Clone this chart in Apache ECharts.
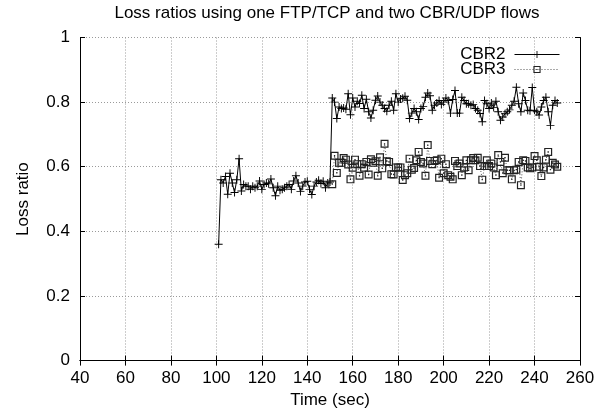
<!DOCTYPE html>
<html>
<head>
<meta charset="utf-8">
<title>Loss ratios</title>
<script src="https://cdn.jsdelivr.net/npm/echarts@6/dist/echarts.min.js"></script>
<style>
  html, body { margin: 0; padding: 0; background: #fff; }
  #chart { width: 604px; height: 415px; }
</style>
</head>
<body>
<div id="chart"></div>
<script>
// Loss ratio samples, one per second.
const cbr2Start = 101; // first CBR2 sample time (sec)
const cbr3Start = 151; // first CBR3 sample time (sec)

const cbr2Values = [
  0.36, 0.56, 0.55, 0.57, 0.515, 0.58, 0.55, 0.52, 0.56, 0.625,
  0.525, 0.545, 0.54, 0.54, 0.53, 0.54, 0.535, 0.54, 0.556, 0.53,
  0.545, 0.55, 0.547, 0.562, 0.535, 0.51, 0.54, 0.527, 0.53, 0.535,
  0.54, 0.545, 0.53, 0.556, 0.572, 0.55, 0.523, 0.54, 0.553, 0.555,
  0.53, 0.514, 0.54, 0.553, 0.558, 0.548, 0.555, 0.535, 0.55, 0.553,
  0.813, 0.8, 0.749, 0.785, 0.78, 0.782, 0.778, 0.826, 0.761, 0.813,
  0.785, 0.803, 0.796, 0.821, 0.78, 0.809, 0.77, 0.751, 0.775, 0.806,
  0.819, 0.8, 0.79, 0.78, 0.772, 0.79, 0.803, 0.775, 0.826, 0.8,
  0.81, 0.812, 0.818, 0.806, 0.749, 0.766, 0.78, 0.77, 0.746, 0.78,
  0.786, 0.815, 0.828, 0.82, 0.775, 0.79, 0.797, 0.805, 0.793, 0.8,
  0.813, 0.805, 0.766, 0.808, 0.836, 0.766, 0.766, 0.815, 0.805, 0.795,
  0.795, 0.79, 0.793, 0.78, 0.775, 0.765, 0.739, 0.805, 0.795, 0.78,
  0.797, 0.783, 0.803, 0.77, 0.744, 0.754, 0.764, 0.77, 0.776, 0.79,
  0.803, 0.846, 0.795, 0.77, 0.828, 0.805, 0.775, 0.773, 0.845, 0.775,
  0.77, 0.76, 0.785, 0.805, 0.815, 0.77, 0.728, 0.79, 0.805, 0.797
];

const cbr3Values = [
  0.546, 0.634, 0.581, 0.612, 0.612, 0.627, 0.622, 0.607, 0.561, 0.597,
  0.622, 0.608, 0.572, 0.608, 0.597, 0.615, 0.576, 0.623, 0.612, 0.617,
  0.572, 0.629, 0.595, 0.671, 0.617, 0.615, 0.577, 0.576, 0.598, 0.598,
  0.598, 0.559, 0.574, 0.58, 0.625, 0.591, 0.596, 0.62, 0.646, 0.615,
  0.61, 0.572, 0.667, 0.618, 0.608, 0.618, 0.62, 0.566, 0.625, 0.58,
  0.608, 0.574, 0.569, 0.561, 0.618, 0.602, 0.61, 0.574, 0.598, 0.62,
  0.589, 0.62, 0.627, 0.62, 0.628, 0.602, 0.56, 0.602, 0.62, 0.602,
  0.61, 0.598, 0.574, 0.636, 0.615, 0.58, 0.628, 0.589, 0.589, 0.561,
  0.589, 0.591, 0.615, 0.543, 0.62, 0.618, 0.598, 0.595, 0.598, 0.633,
  0.62, 0.6, 0.571, 0.598, 0.622, 0.646, 0.591, 0.612, 0.607, 0.6
];

const seriesNames = ['CBR2', 'CBR3'];
const xRange = { min: 40, max: 260, interval: 20 };
const yRange = { min: 0, max: 1, interval: 0.2 };

const FONT = "'Liberation Sans', Arial, Helvetica, sans-serif";
const plusSymbol = 'path://M4.4,0H5.6V4.4H10V5.6H5.6V10H4.4V5.6H0V4.4H4.4Z';
const boxSymbol = 'path://M0,0H10V10H0Z M1.5,1.5V8.5H8.5V1.5Z M4.2,4.2H5.8V5.8H4.2Z';

const toPoints = (start, values) => values.map((v, i) => [start + i, v]);

const tickStyle = { show: true, inside: true, length: 5, lineStyle: { color: '#000', width: 1 } };
const lineStyle = { show: true, lineStyle: { color: '#000', width: 1 } };
const gridStyle = { show: true, lineStyle: { color: '#9a9a9a', type: [1, 2], width: 1 } };

// One key entry per legend block so the rows sit close together.
const legendEntry = (name, top) => ({
  data: [name],
  right: 44,
  top: top,
  padding: 0,
  align: 'right',
  itemWidth: 45,
  itemHeight: 9,
  itemGap: 0,
  lineStyle: { width: 1 },
  textStyle: { fontFamily: FONT, fontSize: 17, color: '#000', padding: [0, 4, 0, 0] }
});

const chart = echarts.init(document.getElementById('chart'), null, { renderer: 'canvas' });
chart.setOption({
  animation: false,
  backgroundColor: '#fff',
  textStyle: { fontFamily: FONT },
  title: {
    text: 'Loss ratios using one FTP/TCP and two CBR/UDP flows',
    left: 322,
    textAlign: 'center',
    top: 0,
    textStyle: { fontFamily: FONT, fontSize: 17, fontWeight: 'normal', color: '#000' }
  },
  grid: { left: 80, right: 24, top: 37.5, bottom: 54.4, containLabel: false },
  legend: [legendEntry(seriesNames[0], 46), legendEntry(seriesNames[1], 61)],
  xAxis: [
    {
      type: 'value', position: 'bottom', ...xRange,
      name: 'Time (sec)', nameLocation: 'middle', nameGap: 31,
      nameTextStyle: { fontFamily: FONT, fontSize: 17, color: '#000' },
      axisLine: lineStyle, axisTick: tickStyle, splitLine: gridStyle,
      axisLabel: { color: '#000', fontFamily: FONT, fontSize: 17, margin: 9 }
    },
    {
      type: 'value', position: 'top', ...xRange,
      axisLine: lineStyle, axisTick: tickStyle, splitLine: { show: false },
      axisLabel: { show: false }
    }
  ],
  yAxis: [
    {
      type: 'value', position: 'left', ...yRange,
      name: 'Loss ratio', nameLocation: 'middle', nameGap: 48, nameRotate: 90,
      nameTextStyle: { fontFamily: FONT, fontSize: 17, color: '#000' },
      axisLine: lineStyle, axisTick: tickStyle, splitLine: gridStyle,
      axisLabel: { color: '#000', fontFamily: FONT, fontSize: 17, margin: 10 }
    },
    {
      type: 'value', position: 'right', ...yRange,
      axisLine: lineStyle, axisTick: tickStyle, splitLine: { show: false },
      axisLabel: { show: false }
    }
  ],
  series: [
    {
      name: seriesNames[0], type: 'line', xAxisIndex: 0, yAxisIndex: 0,
      data: toPoints(cbr2Start, cbr2Values),
      symbol: plusSymbol, symbolSize: 8, showAllSymbol: true,
      itemStyle: { color: '#000' },
      lineStyle: { color: '#000', width: 1 }
    },
    {
      name: seriesNames[1], type: 'line', xAxisIndex: 0, yAxisIndex: 0,
      data: toPoints(cbr3Start, cbr3Values),
      symbol: boxSymbol, symbolSize: 8, showAllSymbol: true,
      itemStyle: { color: '#222' },
      lineStyle: { color: '#555', width: 1, type: [1, 2] }
    }
  ]
});
</script>
</body>
</html>
